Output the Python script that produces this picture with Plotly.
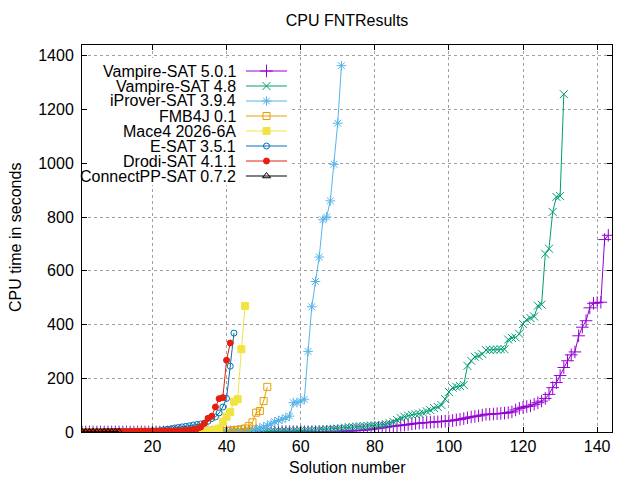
import plotly.graph_objects as go

# cactus plot: sorted CPU times per system
names = ["Vampire-SAT 5.0.1", "Vampire-SAT 4.8", "iProver-SAT 3.9.4", "FMB4J 0.1",
         "Mace4 2026-6A", "E-SAT 3.5.1", "Drodi-SAT 4.1.1", "ConnectPP-SAT 0.7.2"]
colors = ["#9400d3", "#009e73", "#56b4e9", "#e69f00",
          "#f0e442", "#0072b2", "#e51e10", "#000000"]
symbols = ["cross-thin-open", "x-thin-open", "asterisk-open", "square-open",
           "square", "circle-open", "circle", "triangle-up-open"]
sizes = [9, 8, 8, 7, 7, 6, 6, 7]

vampire_501 = [0, 0, 0, 0, 0, 0, 0, 0, 0, 0,
               0, 0, 0, 0, 0, 0, 0, 0, 0, 0,
               0, 0, 0, 0, 0, 0, 0, 0, 0, 0,
               0, 0, 0, 0, 0, 0, 0, 0, 0, 0,
               0, 0, 0, 0, 0, 0, 0, 0, 0, 0,
               0, 0, 0, 1, 1, 1, 1, 1, 1, 1,
               1, 1, 1, 1, 1, 1, 1, 2, 2, 2,
               3, 3, 4, 4, 5, 6, 7, 8, 10, 12,
               14, 16, 18, 20, 22, 23, 25, 26, 28, 30,
               32, 33, 34, 35, 36, 37, 38, 39, 40, 41,
               43, 45, 47, 50, 53, 56, 58, 60, 63, 66,
               66, 67, 68, 69, 70, 72, 75, 82, 88, 92,
               95, 97, 103, 109, 115, 125, 140, 165, 184, 210,
               240, 265, 287, 298, 358, 390, 414, 462, 479, 481, 483, 716, 732]
vampire_48 = [0, 0, 0, 0, 0, 0, 0, 0, 0, 0,
              0, 0, 0, 0, 0, 0, 0, 0, 1, 1,
              1, 1, 1, 1, 1, 1, 1, 1, 1, 1,
              1, 1, 1, 1, 1, 1, 1, 1, 2, 2,
              2, 2, 2, 2, 2, 2, 2, 3, 3, 3,
              3, 3, 3, 4, 4, 4, 5, 5, 5, 6,
              5, 6, 6, 7, 8, 9, 10, 11, 12, 13,
              14, 16, 18, 19, 20, 21, 22, 23, 24, 25,
              25, 27, 29, 33, 38, 45, 52, 57, 61, 64,
              66, 68, 72, 77, 81, 89, 93, 100,
              122, 149, 165, 168, 171, 175, 246, 265, 280, 283,
              290, 305, 305, 306, 307, 308, 308, 344, 350, 352,
              365, 402, 418, 424, 430, 470, 474, 663, 682, 819,
              875, 878, 1257]
iprover = [0, 0, 0, 0, 0, 0, 0, 0, 0, 0,
           0, 0, 0, 0, 0, 0, 0, 0, 0, 0,
           0, 0, 0, 0, 0, 0, 0, 0, 0, 0,
           1, 1, 1, 1, 1, 1, 1, 1, 1, 1,
           2, 2, 3, 4, 5, 7, 9, 12, 15, 19,
           24, 30, 38, 43, 47, 53, 59, 109, 109, 115,
           122, 300, 466, 560, 651, 790, 800, 860, 996, 1149,
           1363]
fmb4j = [0, 0, 0, 0, 0, 0, 0, 0, 0, 0,
         0, 0, 0, 0, 0, 0, 0, 0, 0, 0,
         0, 0, 0, 0, 0, 0, 0, 0, 0, 0,
         1, 1, 1, 1, 1, 2, 2, 3, 3, 4,
         5, 6, 8, 10, 13, 22, 36, 72, 78, 115,
         168]
mace4 = [0, 0, 0, 0, 0, 0, 0, 0, 0, 0,
         0, 0, 0, 0, 1, 1, 1, 1, 1, 1,
         1, 1, 1, 1, 1, 1, 2, 2, 2, 2,
         2, 3, 3, 4, 5, 6, 8, 13, 38, 57,
         74, 113, 122, 308, 469]
esat = [1, 1, 1, 1, 1, 1, 1, 1, 1, 2,
        2, 2, 2, 2, 2, 2, 3, 3, 3, 4,
        4, 5, 8, 10, 12, 15, 17, 19, 21, 23,
        26, 28, 30, 33, 40, 50, 56, 71, 93, 125,
        245, 368]
drodi = [1, 1, 1, 1, 1, 1, 2, 2, 2, 2,
         2, 2, 2, 2, 2, 3, 3, 3, 3, 3,
         3, 3, 4, 4, 4, 4, 5, 5, 6, 7,
         9, 12, 18, 32, 51, 59, 93, 124, 128, 267,
         331]
connectpp = [0.3, 0.4, 0.4, 0.5, 0.5, 0.6, 0.6, 0.7, 0.8, 0.9, 1.0]

series = [vampire_501, vampire_48, iprover, fmb4j, mace4, esat, drodi, connectpp]

x_ticks = [20, 40, 60, 80, 100, 120, 140]
y_ticks = [0, 200, 400, 600, 800, 1000, 1200, 1400]

W, H = 640, 480
OFF = 8  # page body margin shifts the figure by this much
L, R, T, B = 82 - OFF, 612 - OFF, 45 - OFF, 432 - OFF
X_RANGE = [1, 144]
Y_RANGE = [0, 1440]
FONT = "Liberation Sans, Arial, sans-serif"


def px_x(px):
    # screenshot pixel -> data x
    return X_RANGE[0] + (px - OFF - L) / (R - L) * (X_RANGE[1] - X_RANGE[0])


def px_y(py):
    # screenshot pixel -> data y
    return Y_RANGE[0] + (B - (py - OFF)) / (B - T) * (Y_RANGE[1] - Y_RANGE[0])


def paper_x(px):
    return (px - OFF - L) / (R - L)


def paper_y(py):
    return (B - (py - OFF)) / (B - T)


fig = go.Figure()
for name, vals, col, sym, sz in zip(names, series, colors, symbols, sizes):
    fig.add_trace(go.Scatter(
        x=list(range(1, len(vals) + 1)), y=vals, name=name,
        mode="lines+markers",
        line=dict(color=col, width=1),
        marker=dict(symbol=sym, size=sz, color=col, line=dict(color=col, width=1)),
        showlegend=False))

# hand-made gnuplot style key: text right aligned, sample on the right
fig.add_shape(type="rect", xref="x", yref="y",
              x0=X_RANGE[0], x1=px_x(291), y0=px_y(185), y1=px_y(58),
              fillcolor="white", line_width=0, layer="between")
for i, (name, col, sym, sz) in enumerate(zip(names, colors, symbols, sizes)):
    row = 71 + 15 * i
    fig.add_trace(go.Scatter(
        x=[px_x(246), px_x(287)], y=[px_y(row)] * 2, mode="lines",
        line=dict(color=col, width=1), showlegend=False, hoverinfo="skip"))
    fig.add_trace(go.Scatter(
        x=[px_x(266.5)], y=[px_y(row)], mode="markers",
        marker=dict(symbol=sym, size=sz, color=col, line=dict(color=col, width=1)),
        showlegend=False, hoverinfo="skip"))
    fig.add_annotation(x=paper_x(237), y=paper_y(row),
                       xref="paper", yref="paper", text=name, showarrow=False,
                       xanchor="right", yanchor="middle", borderpad=0,
                       font=dict(size=16, color="black", family=FONT))

axis_style = dict(showline=True, linecolor="black", linewidth=1, mirror="ticks",
                  ticks="inside", ticklen=5, tickcolor="black",
                  showgrid=True, gridcolor="#a0a0a0", griddash="dot", gridwidth=1,
                  zeroline=False, tickfont=dict(size=16, color="black", family=FONT))

fig.update_xaxes(range=X_RANGE, tickvals=x_ticks, **axis_style)
fig.update_yaxes(range=Y_RANGE, tickvals=y_ticks, ticklabelstandoff=4, **axis_style)

fig.add_annotation(x=paper_x(347), y=paper_y(467), xref="paper", yref="paper",
                   text="Solution number", showarrow=False, yanchor="middle",
                   font=dict(size=16, color="black", family=FONT))
fig.add_annotation(x=paper_x(16), y=paper_y(238), xref="paper", yref="paper",
                   text="CPU time in seconds", showarrow=False, textangle=-90,
                   xanchor="center", yanchor="middle", borderpad=0,
                   font=dict(size=16, color="black", family=FONT))

fig.update_layout(
    width=W, height=H,
    margin=dict(l=L, r=W - R, t=T, b=H - B),
    title=dict(text="CPU FNTResults", x=(347 - OFF) / W, y=1 - (20 - OFF) / H,
               xanchor="center", yanchor="middle",
               font=dict(size=16, color="black", family=FONT)),
    plot_bgcolor="white", paper_bgcolor="white",
    font=dict(family=FONT, size=16, color="black"),
)

fig.write_html("out.html")
